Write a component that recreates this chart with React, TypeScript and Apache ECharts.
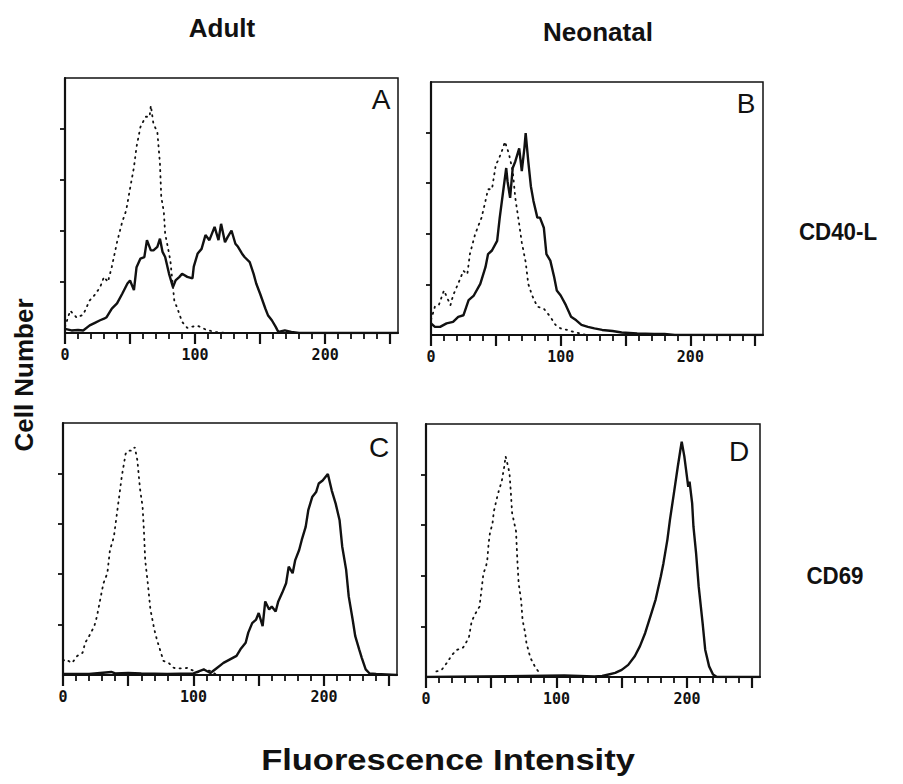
import React, { useEffect, useRef } from "react";
import * as echarts from "echarts";

// Flow cytometry histograms: [channel, cell count (tick units)]
const adultCd40Iso: number[][] = [[0,0.12],[4,0.44],[9,0.3],[14,0.36],[19,0.64],[23,0.75],[27,0.9],[30,1.1],[33,1.0],[36,1.3],[40,1.78],[44,2.18],[47,2.4],[50,2.83],[53,3.25],[55,3.65],[58,4.04],[62,4.24],[65,4.24],[66,4.46],[68,4.1],[71,3.94],[73,3.32],[74,2.67],[76,2.37],[77,1.95],[79,1.69],[81,1.42],[84,0.64],[87,0.44],[90,0.22],[94,0.1],[97,0.12],[102,0.14],[108,0.07],[115,0.02],[125,0]];
const adultCd40: number[][] = [[0,0.08],[5,0.05],[10,0.06],[14,0.05],[19,0.15],[23,0.2],[27,0.25],[30,0.28],[32,0.31],[36,0.48],[40,0.58],[44,0.77],[48,0.97],[50,1.03],[53,0.84],[55,1.29],[58,1.46],[61,1.49],[63,1.82],[66,1.62],[68,1.62],[71,1.69],[73,1.85],[75,1.59],[77,1.49],[80,1.16],[83,0.9],[85,1.03],[88,1.1],[90,1.16],[94,1.1],[98,1.07],[99,1.3],[102,1.56],[105,1.65],[108,1.92],[111,1.82],[115,2.08],[118,1.82],[120,2.14],[123,1.78],[125,1.88],[128,2.01],[131,1.75],[133,1.69],[136,1.56],[138,1.49],[142,1.39],[145,1.16],[147,0.97],[150,0.77],[154,0.48],[156,0.35],[159,0.25],[162,0.12],[164,0.02],[169,0.05],[174,0.02],[180,0],[256,0]];
const neoCd40Iso: number[][] = [[0,0.3],[3,0.56],[6,0.59],[10,0.88],[15,0.59],[17,0.78],[22,1.08],[25,1.27],[28,1.2],[30,1.6],[34,1.99],[37,2.19],[39,2.32],[42,2.65],[44,2.88],[47,2.88],[50,3.37],[52,3.46],[55,3.66],[57,3.82],[60,3.59],[63,3.24],[65,2.71],[68,2.19],[70,1.83],[73,1.44],[75,1.01],[78,0.78],[82,0.56],[87,0.52],[92,0.36],[96,0.2],[100,0.13],[105,0.1],[110,0.06],[115,0.03],[120,0]];
const neoCd40: number[][] = [[0,0.23],[3,0.16],[7,0.16],[12,0.23],[17,0.26],[21,0.36],[25,0.39],[29,0.69],[33,0.78],[38,1.01],[42,1.34],[44,1.6],[47,1.67],[51,1.86],[53,2.32],[56,2.91],[58,3.3],[59,3.04],[61,2.71],[63,3.3],[65,3.43],[68,3.69],[70,3.24],[72,3.69],[73,3.99],[75,3.43],[77,2.94],[79,2.65],[82,2.32],[84,2.32],[87,2.12],[89,1.6],[92,1.47],[95,1.14],[97,0.88],[100,0.78],[104,0.59],[108,0.36],[112,0.29],[116,0.2],[121,0.16],[126,0.13],[132,0.1],[140,0.08],[147,0.05],[159,0.03],[172,0.02],[180,0.02],[188,0],[256,0]];
const adultCd69Iso: number[][] = [[0,0.28],[2,0.31],[7,0.24],[11,0.38],[15,0.44],[17,0.64],[20,0.77],[24,0.97],[26,1.16],[29,1.56],[31,1.82],[34,2.02],[36,2.48],[39,2.74],[40,2.94],[43,3.53],[45,3.93],[48,4.39],[50,4.45],[53,4.45],[55,4.52],[57,4.26],[59,3.7],[61,3.34],[62,2.88],[63,2.28],[65,1.82],[67,1.3],[70,0.9],[72,0.7],[77,0.28],[81,0.24],[85,0.14],[90,0.13],[95,0.14],[103,0.05],[108,0.11],[113,0.08],[118,0]];
const adultCd69: number[][] = [[0,0.02],[20,0.02],[37,0.06],[40,0.03],[50,0.04],[60,0.03],[80,0.02],[100,0.03],[108,0.11],[113,0.04],[118,0.14],[123,0.24],[128,0.31],[133,0.38],[136,0.51],[140,0.64],[142,0.84],[145,1.03],[148,1.1],[150,1.23],[153,0.97],[155,1.46],[158,1.3],[160,1.36],[163,1.26],[165,1.46],[168,1.63],[171,1.82],[173,2.15],[176,2.02],[178,2.28],[181,2.48],[183,2.68],[186,2.94],[188,3.27],[191,3.53],[194,3.63],[196,3.8],[199,3.86],[203,3.99],[206,3.66],[209,3.4],[212,3.07],[214,2.55],[217,2.09],[219,1.56],[222,1.1],[224,0.77],[227,0.51],[229,0.34],[232,0.11],[235,0.03],[240,0.02],[256,0]];
const neoCd69Iso: number[][] = [[8,0.11],[12,0.14],[16,0.28],[20,0.44],[24,0.54],[28,0.57],[30,0.64],[33,0.8],[35,1.1],[38,1.26],[41,1.39],[43,1.82],[44,2.05],[46,2.18],[47,2.32],[48,2.64],[49,2.84],[51,3.04],[52,3.27],[54,3.5],[56,3.7],[58,3.86],[60,4.16],[61,4.36],[62,4.26],[64,4.03],[65,3.66],[66,3.24],[69,2.88],[70,2.32],[71,1.86],[73,1.49],[74,1.13],[76,0.87],[77,0.67],[80,0.38],[84,0.18],[88,0.05]];
const neoCd69: number[][] = [[0,0],[106,0.03],[129,0.01],[135,0.02],[140,0.05],[145,0.08],[150,0.14],[155,0.24],[160,0.41],[164,0.61],[168,0.87],[172,1.2],[176,1.53],[180,1.99],[182,2.25],[185,2.71],[187,3.11],[190,3.63],[193,4.16],[195,4.49],[196,4.65],[198,4.36],[200,3.96],[201,3.76],[202,3.86],[204,3.43],[205,2.97],[207,2.45],[209,1.79],[212,1.07],[214,0.54],[217,0.21],[220,0.05],[223,0],[256,0]];

const panelLetters = ["A", "B", "C", "D"];
const minorTicks = [0, 10, 20, 30, 40, 50, 60, 70, 80, 90, 100, 110, 120, 130, 140, 150, 160, 170, 180, 190, 200, 210, 220, 230, 240, 250];
const majorTicks = [0, 50, 100, 150, 200, 250];
const xLabels = [0, 100, 200];
const yTicks = [1, 2, 3, 4];
const columnTitles = ["Adult", "Neonatal"];
const rowTitles = ["CD40-L", "CD69"];

const panels = [
  { iso: adultCd40Iso, stain: adultCd40, grid: { left: 65, top: 78, width: 333, height: 255 }, letter: [381, 99] },
  { iso: neoCd40Iso, stain: neoCd40, grid: { left: 431, top: 82, width: 332, height: 253 }, letter: [746, 103] },
  { iso: adultCd69Iso, stain: adultCd69, grid: { left: 63, top: 423, width: 334, height: 252 }, letter: [379, 447] },
  { iso: neoCd69Iso, stain: neoCd69, grid: { left: 426, top: 424, width: 334, height: 253 }, letter: [739, 451] },
];

export default function App() {
  const ref = useRef<HTMLDivElement>(null);
  useEffect(() => {
    if (!ref.current) return;
    const chart = echarts.init(ref.current, null, { renderer: "svg" });
    const ink = "#111";
    const grids: any[] = [];
    const xAxes: any[] = [];
    const yAxes: any[] = [];
    const series: any[] = [];
    const graphics: any[] = [];
    panels.forEach((p, i) => {
      grids.push({ ...p.grid, show: true, borderColor: ink, borderWidth: 1.5, backgroundColor: "transparent", outerBoundsMode: "none", containLabel: false });
      xAxes.push({
        gridIndex: i, type: "value", min: 0, max: 256, interval: 10, position: "bottom",
        axisLine: { show: true, lineStyle: { color: ink, width: 2.2 } },
        axisTick: { show: true, customValues: minorTicks, length: 6, lineStyle: { color: ink, width: 1.8 } },
        axisLabel: { show: false }, splitLine: { show: false },
      });
      xAxes.push({
        gridIndex: i, type: "value", min: 0, max: 256, interval: 50, position: "bottom",
        axisLine: { show: false },
        axisTick: { show: true, customValues: majorTicks, length: 11, lineStyle: { color: ink, width: 2.2 } },
        axisLabel: { show: true, customValues: xLabels, margin: 14, color: ink, fontFamily: "DejaVu Sans Mono", fontWeight: "bold", fontSize: 15 },
        splitLine: { show: false },
      });
      yAxes.push({
        gridIndex: i, type: "value", min: 0, max: 5, interval: 1,
        axisLine: { show: true, lineStyle: { color: ink, width: 2.2 } },
        axisTick: { show: true, customValues: yTicks, length: 5, lineStyle: { color: ink, width: 1.8 } },
        axisLabel: { show: false }, splitLine: { show: false },
      });
      series.push({
        type: "line", xAxisIndex: 2 * i + 1, yAxisIndex: i, data: p.iso, showSymbol: false, silent: true,
        lineStyle: { color: ink, width: 1.8, type: [1.2, 5], cap: "round" },
      });
      series.push({
        type: "line", xAxisIndex: 2 * i + 1, yAxisIndex: i, data: p.stain, showSymbol: false, silent: true,
        lineStyle: { color: ink, width: 2.4 },
      });
      graphics.push({
        type: "text", x: p.letter[0], y: p.letter[1],
        style: { text: panelLetters[i], fill: ink, font: "28px 'Liberation Sans', Arial, sans-serif", textAlign: "center", textVerticalAlign: "middle" },
      });
    });
    const titleFont = "bold 26px 'Liberation Sans', Arial, sans-serif";
    const rowFont = "bold 24px 'Liberation Sans', Arial, sans-serif";
    graphics.push(
      { type: "text", x: 222, y: 28, style: { text: columnTitles[0], fill: ink, font: titleFont, textAlign: "center", textVerticalAlign: "middle" } },
      { type: "text", x: 598, y: 32, style: { text: columnTitles[1], fill: ink, font: titleFont, textAlign: "center", textVerticalAlign: "middle" } },
      { type: "text", x: 838, y: 232, scaleX: 0.93, style: { text: rowTitles[0], fill: ink, font: rowFont, textAlign: "center", textVerticalAlign: "middle" } },
      { type: "text", x: 835, y: 576, scaleX: 0.93, style: { text: rowTitles[1], fill: ink, font: rowFont, textAlign: "center", textVerticalAlign: "middle" } },
      { type: "text", x: 24, y: 375, rotation: Math.PI / 2, style: { text: "Cell Number", fill: ink, font: titleFont, textAlign: "center", textVerticalAlign: "middle" } },
      { type: "text", x: 448, y: 760, scaleX: 1.15, style: { text: "Fluorescence Intensity", fill: ink, font: "bold 30px 'Liberation Sans', Arial, sans-serif", textAlign: "center", textVerticalAlign: "middle" } },
    );
    chart.setOption({
      animation: false,
      backgroundColor: "#fff",
      grid: grids,
      xAxis: xAxes,
      yAxis: yAxes,
      series,
      graphic: graphics,
    });
    return () => chart.dispose();
  }, []);
  return <div ref={ref} style={{ position: "fixed", left: 0, top: 0, width: 903, height: 784 }} />;
}
